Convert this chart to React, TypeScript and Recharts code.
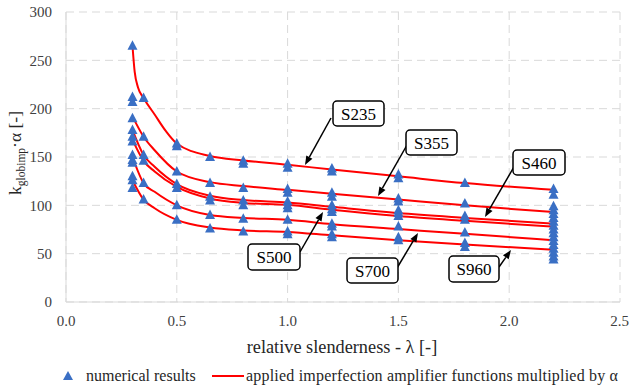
import { ComposedChart, Line, Scatter, XAxis, YAxis, CartesianGrid } from "recharts";

// imperfection amplifier curves
const lambdaS235 = [0.3, 0.31, 0.325, 0.35, 0.4, 0.45, 0.5, 0.65, 0.8, 1.0, 1.2, 1.5, 1.8, 2.2];
const kS235 = [265, 238, 222, 211, 194, 177, 164, 151, 146.5, 142, 137, 130, 123, 116];

const lambdaCurve = [0.3, 0.35, 0.4, 0.5, 0.65, 0.8, 1.0, 1.2, 1.5, 1.8, 2.2];
const kS355 = [192, 171, 157, 135, 124, 120, 116, 112, 106, 100, 93];
const kS460 = [178, 152, 140, 122, 110, 105.5, 103, 98.5, 92, 87, 81];
const kS500 = [168, 146, 135, 119, 107, 102.5, 100.5, 95.5, 89, 84, 78];
const kS700 = [150, 123, 114, 100, 90, 87, 85, 80.5, 75.5, 70.5, 64];
const kS960 = [126, 106, 97, 85, 77, 74, 72.5, 69, 64, 59.5, 54];

// numerical results, grouped by slenderness
const resultLambdas = [0.3, 0.35, 0.5, 0.65, 0.8, 1.0, 1.2, 1.5, 1.8, 2.2];
const resultValues = [
  [265, 212, 207, 190, 178, 171, 166, 152, 147, 144, 130, 126, 118],
  [211, 171, 152, 146, 123, 106],
  [164, 161, 135, 122, 118, 100, 85],
  [150, 123, 109, 105, 90, 76],
  [146, 143, 118, 105, 100, 86, 73],
  [143, 139, 117, 113, 104, 100, 97, 85, 73, 70],
  [138, 135, 113, 109, 100, 96, 93, 81, 78, 70, 67],
  [132, 128, 107, 104, 95, 92, 89, 78, 67, 64],
  [123, 102, 89, 85, 72, 61, 57],
  [117, 111, 99, 95, 91, 87, 83, 79, 75, 71, 67, 63, 59, 55, 51, 47, 44],
];

const xTicks = [0, 0.5, 1.0, 1.5, 2.0, 2.5];
const yTicks = [0, 50, 100, 150, 200, 250, 300];

const toPoints = (xs: number[], ys: number[]) => xs.map((x, i) => ({ x, y: ys[i] }));

const curves = [
  { name: "S235", data: toPoints(lambdaS235, kS235) },
  { name: "S355", data: toPoints(lambdaCurve, kS355) },
  { name: "S460", data: toPoints(lambdaCurve, kS460) },
  { name: "S500", data: toPoints(lambdaCurve, kS500) },
  { name: "S700", data: toPoints(lambdaCurve, kS700) },
  { name: "S960", data: toPoints(lambdaCurve, kS960) },
];

const results = resultLambdas.flatMap((x, i) => resultValues[i].map((y) => ({ x, y })));

const BLUE = "#3A6FC4";
const RED = "#FF0000";
const FONT = '"Times New Roman", "Liberation Serif", "DejaVu Serif", serif';

const Triangle = (props: any) => {
  const { cx, cy } = props;
  if (cx == null || cy == null) return null;
  return <path d={`M${cx},${cy - 5.5} L${cx + 5},${cy + 4} L${cx - 5},${cy + 4} Z`} fill={BLUE} />;
};

// callout boxes with arrows (pixel positions on the page)
const callouts = [
  { label: "S235", box: [333, 101, 51, 25], from: [331, 118], to: [305, 165] },
  { label: "S355", box: [406, 130, 51, 25], from: [407, 145], to: [378, 196] },
  { label: "S460", box: [513, 150, 52, 25], from: [515, 165], to: [485, 217] },
  { label: "S500", box: [248, 244, 52, 26], from: [300, 252], to: [323, 212] },
  { label: "S700", box: [347, 258, 51, 25], from: [397, 268], to: [418, 233] },
  { label: "S960", box: [449, 256, 50, 26], from: [499, 267], to: [511, 250] },
];

function Arrow({ from, to }: { from: number[]; to: number[] }) {
  const [x1, y1] = from;
  const [x2, y2] = to;
  const a = Math.atan2(y2 - y1, x2 - x1);
  const len = 9;
  const w = 3.5;
  const bx = x2 - len * Math.cos(a);
  const by = y2 - len * Math.sin(a);
  const px = -Math.sin(a) * w;
  const py = Math.cos(a) * w;
  return (
    <g>
      <line x1={x1} y1={y1} x2={bx} y2={by} stroke="#000" strokeWidth={1.5} />
      <path d={`M${x2},${y2} L${bx + px},${by + py} L${bx - px},${by - py} Z`} fill="#000" />
    </g>
  );
}

const tickStyle = { fill: "#404040", fontSize: 15, fontFamily: FONT };

export default function App() {
  return (
    <div
      style={{
        position: "absolute",
        left: 0,
        top: 0,
        width: 629,
        height: 392,
        background: "#fff",
      }}
    >
      <ComposedChart width={629} height={392} margin={{ top: 12, right: 9, left: 0, bottom: 0 }}>
        <CartesianGrid stroke="#D9D9D9" strokeDasharray="8 5" />
        <XAxis
          dataKey="x"
          type="number"
          domain={[0, 2.5]}
          ticks={xTicks}
          tickFormatter={(v: number) => v.toFixed(1)}
          height={90}
          stroke="#D9D9D9"
          tickLine={false}
          tickSize={0}
          tickMargin={13}
          tick={tickStyle}
          allowDataOverflow
        />
        <YAxis
          type="number"
          domain={[0, 300]}
          ticks={yTicks}
          width={66}
          stroke="#D9D9D9"
          tickLine={false}
          tickSize={0}
          tickMargin={14}
          tick={tickStyle}
        />
        {curves.map((c) => (
          <Line
            key={c.name}
            data={c.data}
            dataKey="y"
            type="monotone"
            stroke={RED}
            strokeWidth={2}
            dot={false}
            isAnimationActive={false}
          />
        ))}
        <Scatter data={results} dataKey="y" fill={BLUE} shape={Triangle} isAnimationActive={false} />
      </ComposedChart>

      <svg width={629} height={392} style={{ position: "absolute", left: 0, top: 0, pointerEvents: "none" }}>
        {callouts.map((c) => (
          <g key={c.label}>
            <Arrow from={c.from} to={c.to} />
            <rect
              x={c.box[0]}
              y={c.box[1]}
              width={c.box[2]}
              height={c.box[3]}
              rx={4}
              fill="#fff"
              stroke="#000"
              strokeWidth={1.5}
            />
            <text
              x={c.box[0] + c.box[2] / 2}
              y={c.box[1] + c.box[3] / 2 + 6}
              textAnchor="middle"
              fontSize={17}
              fontFamily={FONT}
              fill="#000"
            >
              {c.label}
            </text>
          </g>
        ))}

        <text
          x={21}
          y={153}
          transform="rotate(-90 21 153)"
          textAnchor="middle"
          fontSize={17.5}
          fontFamily={FONT}
          fill="#262626"
        >
          k<tspan fontSize={11.5} dy={4}>globimp</tspan>
          <tspan dy={-4}>·α [-]</tspan>
        </text>

        <text x={342} y={353} textAnchor="middle" fontSize={18.3} fontFamily={FONT} fill="#262626">
          relative slenderness - λ [-]
        </text>

        <path d="M68,371 L73,380 L63,380 Z" fill={BLUE} />
        <text x={86} y={381} fontSize={16} fontFamily={FONT} fill="#262626">
          numerical results
        </text>
        <line x1={212} y1={376} x2={244} y2={376} stroke={RED} strokeWidth={2} />
        <text
          x={246}
          y={381}
          fontSize={16}
          fontFamily={FONT}
          fill="#262626"
          textLength={372}
          lengthAdjust="spacing"
        >
          applied imperfection amplifier functions multiplied by α
        </text>
      </svg>
    </div>
  );
}
